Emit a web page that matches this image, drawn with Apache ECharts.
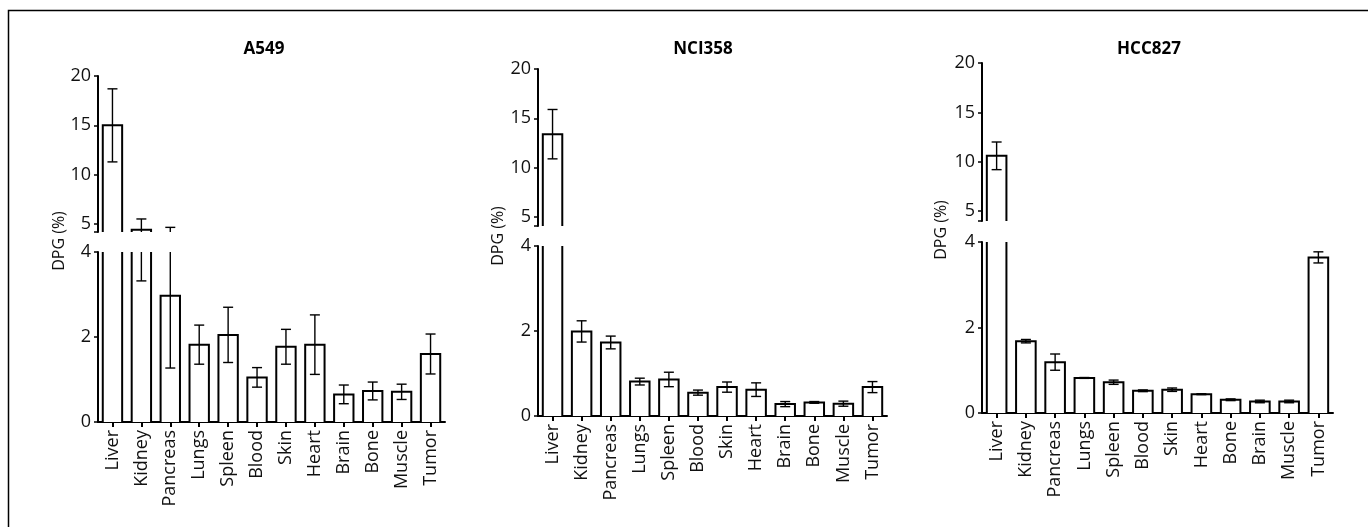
<!DOCTYPE html>
<html><head><meta charset="utf-8">
<script src="https://cdn.jsdelivr.net/npm/echarts@6/dist/echarts.min.js"></script>
<style>html,body{margin:0;padding:0;background:#fff}#c{width:1368px;height:527px}</style>
</head><body><div id="c"></div>
<script>
// ---- data ----
const organsA = ['Liver','Kidney','Pancreas','Lungs','Spleen','Blood','Skin','Heart','Brain','Bone','Muscle','Tumor'];
const organsH = ['Liver','Kidney','Pancreas','Lungs','Spleen','Blood','Skin','Heart','Bone','Brain','Muscle','Tumor'];
const a549Mean = [15.0, 4.42, 2.97, 1.82, 2.05, 1.05, 1.77, 1.82, 0.65, 0.73, 0.71, 1.60];
const a549Err  = [3.7, 1.1, 1.7, 0.46, 0.65, 0.23, 0.41, 0.70, 0.22, 0.21, 0.18, 0.47];
const nciMean  = [13.4, 1.99, 1.73, 0.81, 0.86, 0.55, 0.68, 0.62, 0.28, 0.32, 0.29, 0.68];
const nciErr   = [2.5, 0.25, 0.15, 0.08, 0.17, 0.06, 0.12, 0.16, 0.06, 0.02, 0.06, 0.13];
const hccMean  = [10.6, 1.68, 1.19, 0.82, 0.72, 0.52, 0.545, 0.44, 0.31, 0.27, 0.27, 3.64];
const hccErr   = [1.4, 0.04, 0.19, 0.01, 0.05, 0.02, 0.04, 0.01, 0.02, 0.03, 0.03, 0.13];
const upperTicks = [5, 10, 15, 20];
const lowerTicks = [0, 2, 4];
const titles = ['A549', 'NCI358', 'HCC827'];
const yName = 'DPG (%)';

// ---- layout ----
const FONT = '"Open Sans", "Noto Sans", sans-serif';
const panels = [
  {title: titles[0], cats: organsA, mean: a549Mean, err: a549Err, left: 98, width: 347,
   upTop: 76, upH: 156, upMin: 4.2, loTop: 252, loH: 170, tx: 264, ty: 49, lx: 59, ly: 241},
  {title: titles[1], cats: organsA, mean: nciMean, err: nciErr, left: 538, width: 349,
   upTop: 69, upH: 157, upMin: 4.1, loTop: 246, loH: 170, tx: 703, ty: 49, lx: 498, ly: 236},
  {title: titles[2], cats: organsH, mean: hccMean, err: hccErr, left: 982, width: 351,
   upTop: 63, upH: 158, upMin: 4.0, loTop: 242, loH: 171, tx: 1149, ty: 49, lx: 941, ly: 230}
];

function renderBar(params, api) {
  const cs = params.coordSys;
  const i = api.value(0), v = api.value(1);
  const top = api.coord([i, v]);
  const base = api.coord([i, 0]);
  const bw = api.size([1, 0])[0] * 0.67;
  const xl = top[0] - bw / 2, xr = top[0] + bw / 2;
  const y0 = cs.y, y1 = cs.y + cs.height;
  const yt = Math.max(top[1], y0), yb = Math.min(base[1], y1);
  if (yt >= yb) return null;
  const ls = {stroke: '#000', lineWidth: 2, fill: 'none'};
  const children = [{type: 'rect', shape: {x: xl, y: yt, width: bw, height: yb - yt}, style: {fill: '#fff'}}];
  if (top[1] >= y0) {
    children.push({type: 'polyline', shape: {points: [[xl, yb], [xl, yt], [xr, yt], [xr, yb]]}, style: ls});
  } else {
    children.push({type: 'line', shape: {x1: xl, y1: yt, x2: xl, y2: yb}, style: ls});
    children.push({type: 'line', shape: {x1: xr, y1: yt, x2: xr, y2: yb}, style: ls});
  }
  return {type: 'group', children};
}

function renderErr(params, api) {
  const cs = params.coordSys;
  const i = api.value(0), m = api.value(1), e = api.value(2);
  const hi = api.coord([i, m + e]), lo = api.coord([i, m - e]);
  const x = hi[0];
  const y0 = cs.y, y1 = cs.y + cs.height;
  const a = Math.max(hi[1], y0), b = Math.min(lo[1], y1);
  if (a > b) return null;
  const st = {stroke: '#000', lineWidth: 1.4};
  const cap = 5;
  const ch = [{type: 'line', shape: {x1: x, y1: a, x2: x, y2: b}, style: st}];
  if (hi[1] >= y0 && hi[1] <= y1) ch.push({type: 'line', shape: {x1: x - cap, y1: hi[1], x2: x + cap, y2: hi[1]}, style: st});
  if (lo[1] >= y0 && lo[1] <= y1) ch.push({type: 'line', shape: {x1: x - cap, y1: lo[1], x2: x + cap, y2: lo[1]}, style: st});
  return {type: 'group', children: ch};
}

const grid = [], xAxis = [], yAxis = [], series = [];
const graphic = [{type: 'rect', shape: {x: 8.5, y: 10.5, width: 1400, height: 600},
  style: {fill: 'none', stroke: '#000', lineWidth: 1.5}, silent: true}];
const axisLine = {show: true, lineStyle: {color: '#000', width: 2}};

panels.forEach((p, k) => {
  const gU = grid.length;
  grid.push({left: p.left, top: p.upTop, width: p.width, height: p.upH});
  grid.push({left: p.left, top: p.loTop, width: p.width, height: p.loH});
  xAxis.push({type: 'category', gridIndex: gU, data: p.cats, show: false, boundaryGap: true});
  xAxis.push({type: 'category', gridIndex: gU + 1, data: p.cats, boundaryGap: true,
    axisLine: axisLine,
    axisTick: {show: true, alignWithLabel: true, length: 5, lineStyle: {color: '#000', width: 2}},
    axisLabel: {rotate: 90, interval: 0, fontSize: 18, fontFamily: FONT, color: '#111', margin: 8}});
  yAxis.push({type: 'value', gridIndex: gU, min: p.upMin, max: 20,
    axisLine: axisLine, splitLine: {show: false},
    axisTick: {show: true, length: 4, customValues: [p.upMin].concat(upperTicks), lineStyle: {color: '#000', width: 1.5}},
    axisLabel: {customValues: upperTicks, fontSize: 18, fontFamily: FONT, color: '#111', margin: 7}});
  yAxis.push({type: 'value', gridIndex: gU + 1, min: 0, max: 4,
    axisLine: axisLine, splitLine: {show: false},
    axisTick: {show: true, length: 4, customValues: lowerTicks, lineStyle: {color: '#000', width: 1.5}},
    axisLabel: {customValues: lowerTicks, fontSize: 18, fontFamily: FONT, color: '#111', margin: 7}});
  const data = p.mean.map((m, i) => [i, m, p.err[i]]);
  [gU, gU + 1].forEach(g => {
    series.push({type: 'custom', name: p.title + ' bars', xAxisIndex: g, yAxisIndex: g,
      renderItem: renderBar, data: data, encode: {x: 0, y: 1}, z: 2});
    series.push({type: 'custom', name: p.title + ' error', xAxisIndex: g, yAxisIndex: g,
      renderItem: renderErr, data: data, encode: {x: 0, y: 1}, z: 3});
  });
  graphic.push({type: 'text', x: p.tx, y: p.ty, silent: true,
    style: {text: p.title, font: 'bold 17px ' + FONT, fill: '#000', align: 'center', verticalAlign: 'middle', textAlign: 'center', textVerticalAlign: 'middle'}});
  graphic.push({type: 'text', x: p.lx, y: p.ly, rotation: Math.PI / 2, silent: true,
    style: {text: yName, font: '16px ' + FONT, fill: '#111', align: 'center', verticalAlign: 'middle', textAlign: 'center', textVerticalAlign: 'middle'}});
});

const chart = echarts.init(document.getElementById('c'));
chart.setOption({
  animation: false,
  backgroundColor: '#fff',
  grid, xAxis, yAxis, series, graphic
});
</script>
</body></html>
